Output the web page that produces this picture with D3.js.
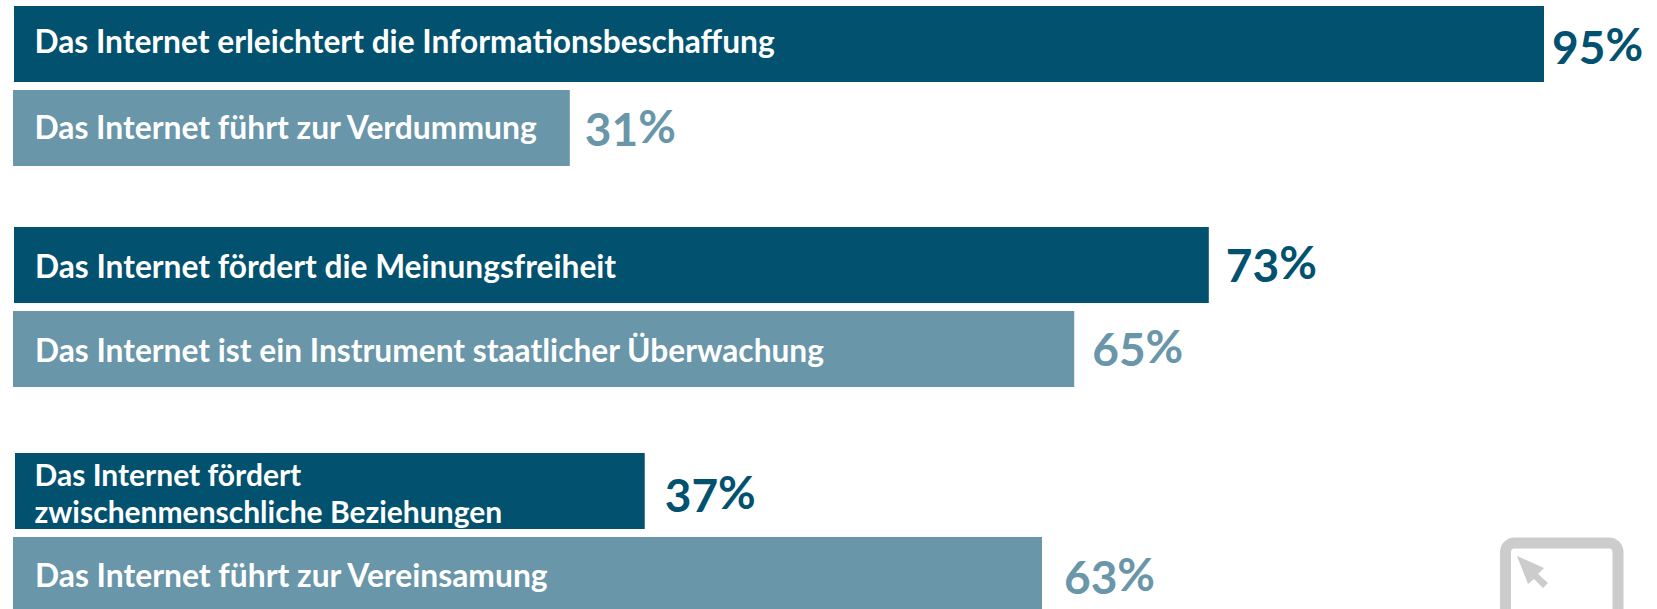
<!DOCTYPE html>
<html><head><meta charset="utf-8"><style>html,body{margin:0;background:#fff}svg{display:block}text{font-family:"Lato";font-weight:700}</style>
<script src="https://cdnjs.cloudflare.com/ajax/libs/d3/7.8.5/d3.min.js"></script></head><body>
<svg id="c" width="1657" height="609"></svg>
<script>
const statements=[["Das Internet erleichtert die Informationsbeschaffung"],["Das Internet führt zur Verdummung"],["Das Internet fördert die Meinungsfreiheit"],["Das Internet ist ein Instrument staatlicher Überwachung"],["Das Internet fördert","zwischenmenschliche Beziehungen"],["Das Internet führt zur Vereinsamung"]];
const printedPercent=[95,31,73,65,37,63];
const drawnLength=[95,34.55,74.2,65.85,39.2,63.85];
const kind=["pro","contra","pro","contra","pro","contra"];
const barTop=[6,90,227,311,453,537];
const barStart=[14,13,14,13,15,13];
const valueGap=[8,15,17,18,20,22];
const labelX=[34.5,34.5,35,35,34.5,35];
const labelBase=[47,49,51,51,33,50];
const labelSize=[31.7,31.8,31.7,31.7,30,31.8];
const valueBase=[58,56,55,55,59,57];
const svg=d3.select("#c");
const x=d3.scaleLinear().domain([0,95]).range([13,1544]);
const colour=d3.scaleOrdinal(["pro","contra"],["#01516F","#6996A9"]);
const barH=76;
const g=svg.selectAll("g.row").data(statements.map((s,i)=>({s,i,v:printedPercent[i],l:drawnLength[i],k:kind[i],t:barTop[i]}))).join("g").attr("class","row");
g.append("rect").attr("x",d=>barStart[d.i]).attr("y",d=>d.t).attr("width",d=>x(d.l)-barStart[d.i]).attr("height",barH).attr("fill",d=>colour(d.k));
g.each(function(d){
  const n=d3.select(this);
  d.s.forEach((line,j)=>{
    n.append("text").attr("x",labelX[d.i]).attr("y",d.t+labelBase[d.i]+j*37).attr("fill","#fff").attr("font-size",labelSize[d.i]).text(line);
  });
  const t=n.append("text").attr("x",x(d.l)+valueGap[d.i]).attr("y",d.t+valueBase[d.i]).attr("fill",colour(d.k)).attr("font-size",46).text(d.v);
  t.append("tspan").attr("dy",-3).text("%");
});
const icon=svg.append("g").attr("fill","#cccccc");
icon.append("path").attr("fill","none").attr("stroke","#cccccc").attr("stroke-width",11).attr("d","M1505.5 640V552a9 9 0 0 1 9-9H1609a9 9 0 0 1 9 9V640");
icon.append("path").attr("d","M1517 556L1544 568L1538 574L1548 583L1543 588L1534 579L1528 584Z");
</script></body></html>
